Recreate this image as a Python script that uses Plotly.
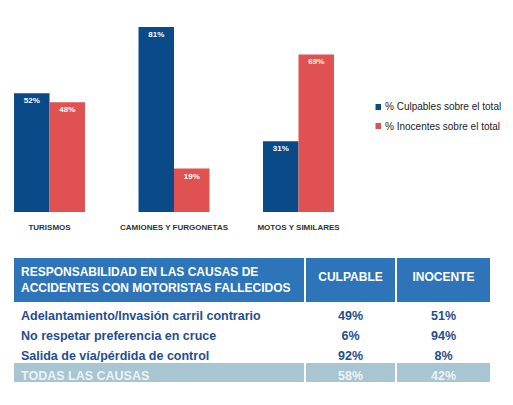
import plotly.graph_objects as go

# page body has an 8px margin: the figure is drawn 8px in from the window edge
OFF = 8
FW, FH = 513 - 2 * OFF, 405 - 2 * OFF

# ---- Data ----
categories = ["TURISMOS", "CAMIONES Y FURGONETAS", "MOTOS Y SIMILARES"]
series_names = ["% Culpables sobre el total", "% Inocentes sobre el total"]
culpables = [52, 81, 31]
inocentes = [48, 19, 69]

table_header = ["RESPONSABILIDAD EN LAS CAUSAS DE<br>ACCIDENTES CON MOTORISTAS FALLECIDOS",
                "<br>CULPABLE", "<br>INOCENTE"]
causas = ["Adelantamiento/Invasión carril contrario",
          "No respetar preferencia en cruce",
          "Salida de vía/pérdida de control",
          "TODAS LAS CAUSAS"]
culpable_pct = ["49%", "6%", "92%", "58%"]
inocente_pct = ["51%", "94%", "8%", "42%"]

# ---- Styles ----
BLUE = "#0a4a88"
RED = "#e05252"
HEAD_BLUE = "#2e74b8"
TEXT_BLUE = "#1f4e8f"
TOTAL_FILL = "#a8c5d2"
TOTAL_TEXT = "#eef3f6"
ARIAL = "Liberation Sans, Arial, sans-serif"


def px_x(p):
    return (p - OFF) / FW


def px_y(p):
    return 1 - (p - OFF) / FH


fig = go.Figure()
for name, vals, col in [(series_names[0], culpables, BLUE), (series_names[1], inocentes, RED)]:
    fig.add_trace(go.Bar(
        x=categories, y=vals, name=name,
        marker=dict(color=col, line=dict(width=0)),
        text=[f"{v}%" for v in vals], textposition="inside",
        insidetextanchor="end",
        textfont=dict(family=ARIAL, size=8, color="white", weight="bold"),
        showlegend=False, xaxis="x", yaxis="y",
    ))

# table
n = len(causas)
row_fill = ["white"] * (n - 1) + [TOTAL_FILL]
row_font = [TEXT_BLUE] * (n - 1) + [TOTAL_TEXT]
fig.add_trace(go.Table(
    domain=dict(x=[px_x(13), px_x(491)], y=[px_y(396), px_y(257)]),
    columnwidth=[292, 91, 95],
    header=dict(values=table_header,
                fill_color=HEAD_BLUE,
                line=dict(color="white", width=1.5),
                align=["left", "center", "center"],
                height=42,
                font=dict(family=ARIAL, size=12, color="white", weight="bold")),
    cells=dict(values=[causas, culpable_pct, inocente_pct],
               fill_color=[row_fill, row_fill, row_fill],
               line=dict(color="white", width=1.5),
               align=["left", "center", "center"],
               height=20,
               font=dict(family=ARIAL, size=12.5, color=[row_font, row_font, row_font],
                         weight="bold")),
))

# legend (drawn manually)
shapes = []
annotations = []
for i, (name, col) in enumerate(zip(series_names, [BLUE, RED])):
    yc = 107 + 19 * i
    shapes.append(dict(type="rect", xref="paper", yref="paper",
                       x0=px_x(375.5), x1=px_x(381), y0=px_y(yc + 3), y1=px_y(yc - 3),
                       fillcolor=col, line=dict(width=0)))
    annotations.append(dict(text=name, xref="paper", yref="paper",
                            x=px_x(383), y=px_y(yc), xanchor="left", yanchor="middle",
                            showarrow=False,
                            font=dict(family=ARIAL, size=10, color="#222222")))

fig.update_layout(
    width=FW, height=FH, autosize=False,
    margin=dict(l=0, r=0, t=0, b=0),
    paper_bgcolor="white", plot_bgcolor="white",
    barmode="group", bargap=0.43, bargroupgap=0,
    xaxis=dict(domain=[px_x(10), px_x(340)], range=[-0.3173, 2.3333],
               showline=False, showgrid=False, zeroline=False, ticks="",
               ticklabelstandoff=9,
               tickfont=dict(family=ARIAL, size=8, color="#333333", weight="bold")),
    yaxis=dict(domain=[px_y(212), px_y(20)], range=[0, 84.06],
               visible=False, showgrid=False, zeroline=False),
    shapes=shapes, annotations=annotations,
    uniformtext=dict(minsize=7, mode="show"),
)

fig.write_html("out.html")
